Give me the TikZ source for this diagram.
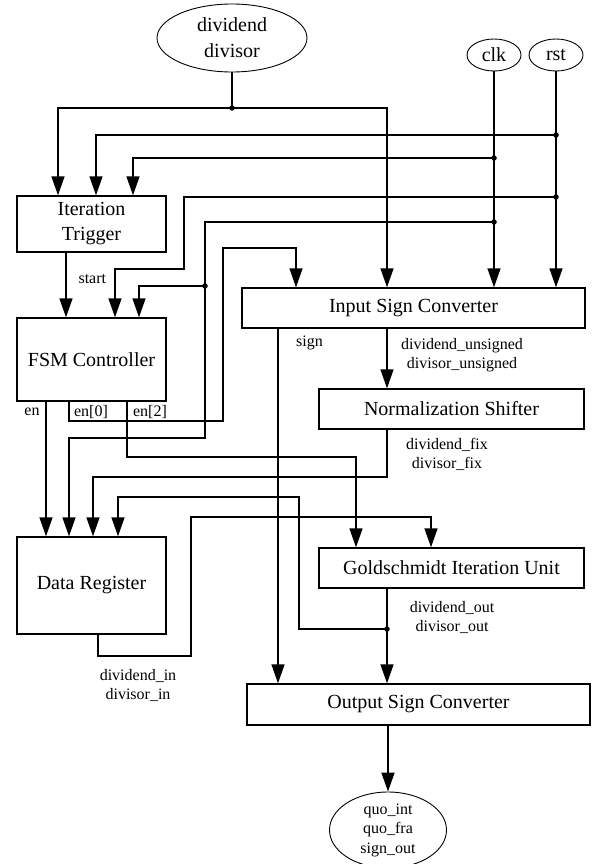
\documentclass[tikz,border=0pt]{standalone}
\usepackage{fontspec}
\setmainfont{Liberation Serif}
\usetikzlibrary{arrows.meta,shapes.geometric}

\tikzset{
  blockbox/.style={draw, rectangle, line width=1.4pt, align=center, font=\fontsize{20}{25}\selectfont},
  port/.style={draw, ellipse, line width=0.9pt, inner sep=0pt, align=center, font=\fontsize{20}{26}\selectfont},
  wire/.style={line width=1.5pt},
  arr/.style={wire, -{Triangle[length=19pt, width=13pt]}},
  lbl/.style={align=center, font=\fontsize{16}{19}\selectfont},
  dot/.style={circle, fill, inner sep=0pt, minimum size=5.5pt}
}

\begin{document}
\begin{tikzpicture}[x=1pt, y=-1pt]
  \useasboundingbox (0,0) rectangle (598,864);

  % inputs and outputs
  \node[port, minimum width=150pt, minimum height=68pt] (in) at (232,38) {dividend\\divisor};
  \node[port, minimum width=54pt, minimum height=32pt] (clk) at (494,55) {clk};
  \node[port, minimum width=54pt, minimum height=32pt] (rst) at (556,55) {rst};
  \node[port, minimum width=117pt, minimum height=76pt, font=\fontsize{16}{19.5}\selectfont] (out) at (388,830) {quo\_int\\quo\_fra\\sign\_out};

  % blocks
  \node[blockbox, minimum width=149pt, minimum height=56pt] (trig) at (91.5,224) {Iteration\\Trigger};
  \node[blockbox, minimum width=149pt, minimum height=83pt] (fsm) at (91.5,359.5) {FSM Controller};
  \node[blockbox, minimum width=149pt, minimum height=97pt] (dreg) at (91.5,585.5) {Data Register};
  \node[blockbox, minimum width=343pt, minimum height=40pt] (isc) at (413.5,308) {Input Sign Converter};
  \node[blockbox, minimum width=265pt, minimum height=40pt] (ns) at (451.5,409) {Normalization Shifter};
  \node[blockbox, minimum width=265pt, minimum height=40pt] (gold) at (451.5,568) {Goldschmidt Iteration Unit};
  \node[blockbox, minimum width=343pt, minimum height=41pt] (osc) at (418.5,704.5) {Output Sign Converter};

  % dividend / divisor
  \draw[arr] (in.south) |- (58,108) -- (trig.north -| 58,0);
  \draw[arr] (in.south) |- (387,108) -- (isc.north -| 387,0);
  \node[dot] (j1) at (232,108) {};

  % clk and rst
  \draw[arr] (rst.south) |- (96,135) -- (trig.north -| 96,0);
  \draw[arr] (clk.south) |- (133,158) -- (trig.north -| 133,0);
  \draw[arr] (rst.south) |- (184,197) |- (115,269) -- (fsm.north -| 115,0);
  \draw[arr] (clk.south) |- (205,222) |- (139,286) -- (fsm.north -| 139,0);
  \draw[arr] (clk.south) |- (205,222) |- (69,438) -- (dreg.north -| 69,0);
  \draw[arr] (clk.south) -- (clk.south |- isc.north);
  \draw[arr] (rst.south) -- (rst.south |- isc.north);
  \node[dot] (j2) at (556,135) {};
  \node[dot] (j3) at (494,158) {};
  \node[dot] (j4) at (556,197) {};
  \node[dot] (j5) at (494,222) {};
  \node[dot] (j6) at (205,286) {};

  % control
  \draw[arr] (trig.south -| 66,0) -- (fsm.north -| 66,0);
  \node[lbl, anchor=west] (start) at (75,279) {start};
  \draw[arr] (fsm.south -| 46,0) -- (dreg.north -| 46,0);
  \draw[arr] (fsm.south -| 69,0) |- (223,421) |- (296,248) -- (isc.north -| 296,0);
  \draw[arr] (fsm.south -| 127,0) |- (356,457) -- (gold.north -| 356,0);
  \node[lbl] (en) at (32,412) {en};
  \node[lbl] (en0) at (91,412) {en[0]};
  \node[lbl] (en2) at (150,412) {en[2]};

  % data path
  \draw[arr] (isc.south -| 278,0) -- (osc.north -| 278,0);
  \node[lbl] (sign) at (309.5,343) {sign};
  \draw[arr] (isc.south -| 387,0) -- (ns.north -| 387,0);
  \node[lbl] (unsig) at (462,355.5) {dividend\_unsigned\\divisor\_unsigned};
  \draw[arr] (ns.south -| 387,0) |- (93,477) -- (dreg.north -| 93,0);
  \node[lbl] (fix) at (447,454) {dividend\_fix\\divisor\_fix};
  \draw[arr] (gold.south -| 387,0) -- (osc.north -| 387,0);
  \draw[arr] (gold.south -| 387,0) |- (299,629) |- (118,497) -- (dreg.north -| 118,0);
  \node[dot] (j7) at (387,629) {};
  \node[lbl] (dout) at (452,617.5) {dividend\_out\\divisor\_out};
  \draw[arr] (dreg.south -| 98,0) |- (191,656) |- (431,517) -- (gold.north -| 431,0);
  \node[lbl] (din) at (138,685.5) {dividend\_in\\divisor\_in};
  \draw[arr] (osc.south -| out.north) -- (out.north);
\end{tikzpicture}
\end{document}
